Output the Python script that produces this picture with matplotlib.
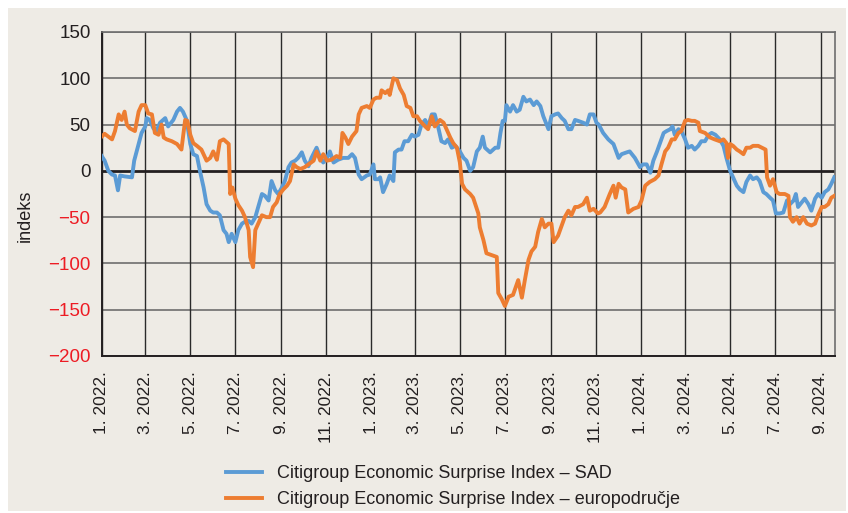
import numpy as np
import pandas as pd
import matplotlib
matplotlib.use('Agg')
import matplotlib.pyplot as plt
from matplotlib.patches import Rectangle

plt.rcParams['font.family'] = ['Liberation Sans', 'DejaVu Sans']

# days counted from 1 Jan 2022
sad_days = [0, 4, 9, 14, 18, 22, 25, 31, 41, 44, 50, 54, 59, 61, 65, 70, 74, 79, 86, 90,
            97, 102, 106, 110, 115, 120, 124, 129, 133, 138, 142, 147, 151, 156, 160, 165,
            169, 172, 176, 181, 185, 190, 194, 199, 203, 208, 212, 217, 221, 226, 230, 235,
            239, 244, 248, 253, 257, 262, 266, 271, 275, 280, 284, 291, 296, 300, 305, 309,
            314, 320, 327, 334, 339, 343, 348, 352, 359, 363, 368, 370, 375, 377, 381, 386,
            390, 395, 397, 402, 406, 410, 415, 420, 424, 429, 433, 438, 442, 447, 451, 456,
            460, 465, 469, 474, 479, 485, 490, 494, 499, 503, 508, 512, 516, 519, 526, 533,
            537, 540, 543, 546, 548, 553, 557, 562, 566, 571, 575, 580, 585, 589, 594, 598,
            605, 609, 614, 618, 623, 627, 632, 636, 641, 645, 652, 657, 661, 666, 670, 673,
            679, 686, 693, 700, 704, 711, 715, 722, 729, 733, 738, 743, 747, 752, 756, 761,
            765, 770, 773, 776, 781, 785, 790, 794, 799, 803, 808, 812, 817, 822, 826, 831,
            837, 842, 846, 851, 855, 860, 864, 869, 873, 878, 882, 887, 891, 896, 900, 905,
            909, 913, 918, 923, 928, 932, 937, 940, 943, 948, 952, 957, 961, 966, 970, 975,
            979, 984, 988, 992]
sad_vals = [16, 11, 0, -4, -5, -21, -5, -6, -7, 11, 29, 41, 48, 57, 55, 46, 43, 52, 57, 48,
            55, 64, 68, 64, 55, 29, 18, 16, 0, -18, -36, -43, -45, -45, -48, -64,
            -68, -77, -68, -77, -64, -57, -55, -54, -57, -50, -39, -25, -27, -32, -11, -21,
            -25, -18, -11, 4, 9, 11, 14, 20, 11, 5, 14, 25, 14, 9, 14, 21,
            9, 12, 14, 14, 18, 14, -4, -9, -5, -4, 7, -9, -9, -7, -23, -14,
            -5, -11, 20, 23, 23, 32, 32, 39, 37, 39, 50, 55, 48, 61, 61, 46,
            32, 30, 34, 25, 27, 21, 14, 11, 0, 4, 21, 25, 37, 25, 20, 25,
            25, 41, 54, 54, 71, 64, 71, 64, 66, 80, 75, 77, 71, 75, 70, 59,
            45, 59, 61, 62, 57, 54, 45, 45, 55, 54, 52, 50, 61, 61, 52, 50,
            41, 34, 29, 14, 18, 20, 21, 14, 4, 7, 7, -2, 11, 21, 30, 41,
            43, 45, 48, 39, 45, 43, 34, 25, 27, 23, 27, 32, 32, 39, 41, 39,
            34, 27, 14, 0, -7, -16, -20, -23, -12, -5, -9, -7, -11, -23, -25, -29,
            -32, -46, -46, -45, -32, -36, -32, -25, -39, -34, -30, -36, -43, -30, -25, -29,
            -23, -20, -14, -7]

ea_days = [0, 4, 9, 14, 18, 23, 27, 31, 34, 38, 45, 50, 54, 59, 63, 68, 72, 77, 81, 84,
           88, 95, 102, 108, 113, 116, 120, 124, 129, 135, 142, 147, 151, 156, 160, 165,
           172, 174, 177, 181, 185, 190, 194, 199, 201, 205, 208, 212, 217, 223, 228, 232,
           237, 241, 246, 251, 255, 260, 264, 269, 275, 280, 287, 291, 296, 300, 305, 311,
           318, 323, 326, 330, 334, 339, 345, 348, 352, 359, 363, 368, 372, 377, 379, 384,
           388, 390, 395, 400, 404, 409, 413, 418, 422, 427, 431, 438, 442, 447, 451, 458,
           463, 467, 472, 476, 481, 485, 488, 492, 499, 503, 510, 512, 517, 521, 528, 535,
           537, 542, 546, 551, 557, 564, 569, 573, 578, 582, 587, 591, 596, 600, 605, 609,
           612, 618, 623, 627, 632, 636, 641, 645, 652, 657, 661, 666, 672, 675, 681, 688,
           693, 696, 700, 704, 709, 713, 720, 727, 731, 736, 742, 749, 754, 758, 763, 767,
           772, 776, 781, 785, 790, 794, 799, 803, 808, 810, 817, 824, 830, 837, 842, 846,
           848, 851, 855, 860, 864, 869, 873, 878, 882, 889, 894, 899, 901, 905, 909, 914,
           918, 925, 930, 932, 936, 941, 945, 950, 955, 961, 966, 970, 975, 979, 984, 988,
           992]
ea_vals = [37, 40, 37, 34, 43, 61, 55, 64, 50, 46, 43, 64, 71, 71, 62, 61, 41, 39, 50, 36,
           34, 32, 29, 23, 55, 54, 39, 30, 27, 23, 11, 14, 21, 12, 32, 34,
           29, -25, -18, -30, -37, -43, -50, -64, -93, -104, -64, -57, -48, -50, -50, -39,
           -34, -25, -20, -16, -11, 7, 4, 2, 4, 7, 11, 21, 11, 18, 11, 12,
           16, 14, 41, 36, 29, 37, 43, 61, 68, 70, 68, 77, 79, 79, 87, 84,
           87, 82, 100, 98, 89, 82, 70, 68, 59, 59, 54, 48, 45, 59, 48, 55,
           52, 45, 36, 30, 25, 9, -14, -20, -25, -29, -46, -61, -75, -89, -91, -93,
           -132, -139, -146, -136, -134, -118, -137, -118, -96, -87, -82, -66, -52, -61, -57, -57,
           -77, -70, -59, -50, -43, -48, -39, -39, -36, -29, -43, -41, -46, -45, -39, -25,
           -16, -29, -14, -18, -20, -45, -41, -39, -32, -16, -12, -9, -5, 7, 21, 25,
           34, 34, 41, 43, 54, 55, 54, 54, 52, 43, 41, 36, 34, 32, 34, 30,
           14, 29, 27, 23, 21, 18, 25, 25, 27, 27, 25, 23, -7, -16, -9, -23,
           -25, -25, -27, -50, -55, -50, -57, -50, -57, -59, -57, -48, -39, -39, -36, -29,
           -27]

y_ticks = [150, 100, 50, 0, -50, -100, -150, -200]
start = pd.Timestamp('2022-01-01')
end = pd.Timestamp('2024-09-20')
tick_dates = pd.date_range('2022-01-01', '2024-09-01', freq='2MS')

bg = '#eeebe5'
blue = '#5b9bd5'
orange = '#ed7d31'
dark = '#231f20'
red = '#ed1c24'

sad_x = start + pd.to_timedelta(sad_days, unit='D')
ea_x = start + pd.to_timedelta(ea_days, unit='D')

fig = plt.figure(figsize=(8.48, 5.13), dpi=100, facecolor='white')
fig.patches.append(Rectangle((8 / 848, 2 / 513), 838 / 848, 503 / 513,
                             transform=fig.transFigure, facecolor=bg,
                             edgecolor='none', zorder=-10))

ax = fig.add_axes([101.7 / 848, 1 - 356 / 513, (835 - 101.7) / 848, 324 / 513])
ax.set_facecolor(bg)

for v in y_ticks:
    if v != 0:
        ax.axhline(v, color='#6e6e6e', lw=1.2, zorder=1)
for d in tick_dates:
    ax.axvline(d, color='#2a2a2a', lw=1.0, zorder=1)
ax.axhline(0, color=dark, lw=2.0, zorder=2)

ax.plot(sad_x, sad_vals, color=blue, lw=2.8, zorder=3,
        label='Citigroup Economic Surprise Index – SAD')
ax.plot(ea_x, ea_vals, color=orange, lw=2.8, zorder=4,
        label='Citigroup Economic Surprise Index – europodručje')

ax.set_xlim(start, end)
ax.set_ylim(-200, 150)

ax.set_yticks(y_ticks)
ax.set_yticklabels([('−' + str(-v)) if v < 0 else str(v) for v in y_ticks])
for lab, v in zip(ax.get_yticklabels(), y_ticks):
    lab.set_color(red if v < 0 else dark)
ax.tick_params(axis='y', length=0, pad=8, labelsize=13.5)

ax.set_xticks(tick_dates)
ax.set_xticklabels([f'{d.month}. {d.year}.' for d in tick_dates],
                   rotation=90, va='top', ha='center')
ax.tick_params(axis='x', length=0, pad=11, labelsize=12.5, colors=dark)

for s in ['left', 'bottom']:
    ax.spines[s].set_color(dark)
    ax.spines[s].set_linewidth(1.4)
ax.spines['top'].set_color('#6e6e6e')
ax.spines['top'].set_linewidth(1.2)
ax.spines['right'].set_color('#6e6e6e')
ax.spines['right'].set_linewidth(1.2)

fig.text(25 / 848, 1 - 216 / 513, 'indeks', rotation=90, ha='center', va='center',
         fontsize=13, color=dark)

fig.legend(loc='upper left', bbox_to_anchor=(226 / 848, 1 - 465 / 513),
           frameon=False, fontsize=13, borderpad=0, borderaxespad=0,
           handlelength=2.0, handletextpad=0.8, labelspacing=0.5,
           labelcolor=dark)

fig.savefig('out.png', dpi=100, facecolor=fig.get_facecolor())
